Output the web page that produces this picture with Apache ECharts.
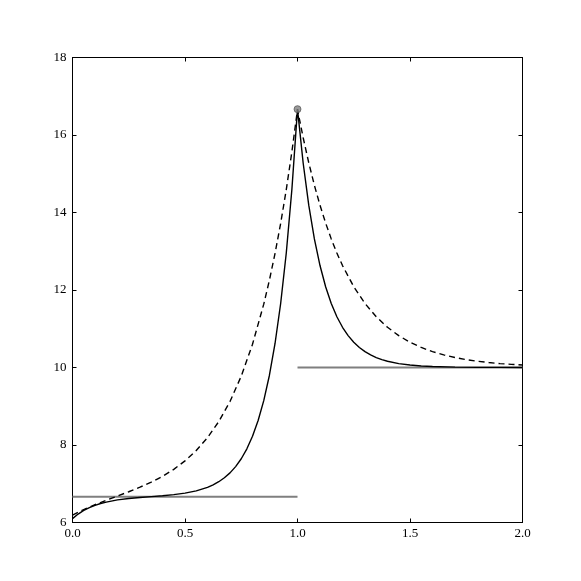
<!DOCTYPE html>
<html>
<head>
<meta charset="utf-8">
<script src="https://cdn.jsdelivr.net/npm/echarts@6/dist/echarts.min.js"></script>
<style>
html,body{margin:0;padding:0;background:#fff;}
#c{width:581px;height:581px;}
</style>
</head>
<body>
<div id="c"></div>
<script>
// ---- data ----
const xTicks = [0.0, 0.5, 1.0, 1.5, 2.0];
const yTicks = [6, 8, 10, 12, 14, 16, 18];

// solid curve
const solidX = [0, 0.025, 0.05, 0.075, 0.1, 0.125, 0.15, 0.2, 0.25, 0.3, 0.35, 0.4, 0.45, 0.5, 0.55, 0.6, 0.625, 0.65, 0.675, 0.7, 0.725, 0.75, 0.775, 0.8, 0.825, 0.85, 0.875, 0.9, 0.925, 0.95, 0.975, 1.0,
  1.025, 1.05, 1.075, 1.1, 1.125, 1.15, 1.175, 1.2, 1.225, 1.25, 1.275, 1.3, 1.325, 1.35, 1.375, 1.4, 1.45, 1.5, 1.55, 1.6, 1.7, 1.8, 1.9, 2.0];
const solidY = [6.10, 6.218, 6.311, 6.385, 6.443, 6.490, 6.527, 6.585, 6.62, 6.647, 6.669, 6.691, 6.718, 6.757, 6.816, 6.907, 6.971, 7.052, 7.154, 7.281, 7.442, 7.645, 7.901, 8.224, 8.631, 9.145, 9.794, 10.613, 11.645, 12.949, 14.593, 16.667,
  15.284, 14.188, 13.319, 12.631, 12.085, 11.652, 11.309, 11.038, 10.823, 10.652, 10.517, 10.409, 10.325, 10.257, 10.204, 10.161, 10.101, 10.064, 10.040, 10.025, 10.010, 10.004, 10.002, 10.001];

// dashed curve
const dashedX = [0, 0.05, 0.1, 0.15, 0.2, 0.25, 0.3, 0.35, 0.4, 0.45, 0.5, 0.55, 0.6, 0.65, 0.7, 0.75, 0.8, 0.85, 0.875, 0.9, 0.925, 0.95, 0.975, 1.0,
  1.025, 1.05, 1.075, 1.1, 1.125, 1.15, 1.175, 1.2, 1.25, 1.3, 1.35, 1.4, 1.45, 1.5, 1.55, 1.6, 1.65, 1.7, 1.75, 1.8, 1.85, 1.9, 1.95, 2.0];
const dashedY = [6.19, 6.334, 6.459, 6.574, 6.683, 6.794, 6.911, 7.042, 7.192, 7.371, 7.589, 7.857, 8.189, 8.603, 9.123, 9.777, 10.599, 11.634, 12.25, 12.94, 13.713, 14.586, 15.564, 16.661,
  15.936, 15.284, 14.703, 14.188, 13.729, 13.319, 12.954, 12.631, 12.085, 11.652, 11.309, 11.038, 10.823, 10.652, 10.517, 10.409, 10.325, 10.257, 10.204, 10.161, 10.128, 10.101, 10.081, 10.064];

// horizontal reference levels
const levelLeftX = [0, 1];
const levelLeftY = [6.667, 6.667];
const levelRightX = [1, 2];
const levelRightY = [10, 10];

// peak marker
const peakX = [1.0];
const peakY = [16.667];

// ---- chart ----
const zip = (xs, ys) => xs.map((x, i) => [x, ys[i]]);
const FONT = '"Liberation Serif", "DejaVu Serif", serif';

const chart = echarts.init(document.getElementById('c'), null, {renderer: 'canvas'});

const axisCommon = {
  type: 'value',
  axisLine: {show: true, onZero: false, lineStyle: {color: '#000', width: 1}},
  axisTick: {show: true, inside: true, length: 4, lineStyle: {color: '#000', width: 1}},
  splitLine: {show: false},
  minorTick: {show: false}
};

chart.setOption({
  animation: false,
  backgroundColor: '#fff',
  grid: {left: 72.5, top: 57.5, width: 450, height: 465, containLabel: false},
  xAxis: [
    Object.assign({}, axisCommon, {
      position: 'bottom', min: xTicks[0], max: xTicks[xTicks.length - 1], interval: 0.5,
      axisLabel: {show: true, color: '#000', fontFamily: FONT, fontSize: 13, margin: 5,
        formatter: v => v.toFixed(1)}
    }),
    Object.assign({}, axisCommon, {
      position: 'top', min: xTicks[0], max: xTicks[xTicks.length - 1], interval: 0.5,
      axisLabel: {show: false}
    })
  ],
  yAxis: [
    Object.assign({}, axisCommon, {
      position: 'left', min: yTicks[0], max: yTicks[yTicks.length - 1], interval: 2,
      axisLabel: {show: true, color: '#000', fontFamily: FONT, fontSize: 13, margin: 6,
        formatter: v => String(v)}
    }),
    Object.assign({}, axisCommon, {
      position: 'right', min: yTicks[0], max: yTicks[yTicks.length - 1], interval: 2,
      axisLabel: {show: false}
    })
  ],
  series: [
    {
      type: 'line', data: zip(levelLeftX, levelLeftY), showSymbol: false, silent: true,
      lineStyle: {color: '#7f7f7f', width: 2}, z: 2
    },
    {
      type: 'line', data: zip(levelRightX, levelRightY), showSymbol: false, silent: true,
      lineStyle: {color: '#7f7f7f', width: 2}, z: 2
    },
    {
      type: 'line', data: zip(dashedX, dashedY), showSymbol: false, smooth: false,
      lineStyle: {color: '#000', width: 1.4, type: [6, 4]}, z: 3
    },
    {
      type: 'line', data: zip(solidX, solidY), showSymbol: false, smooth: false,
      lineStyle: {color: '#000', width: 1.4}, z: 4
    },
    {
      type: 'scatter', data: zip(peakX, peakY), symbol: 'circle', symbolSize: 7,
      itemStyle: {color: '#808080', borderColor: '#444', borderWidth: 0.8}, z: 5
    }
  ]
});
</script>
</body>
</html>
